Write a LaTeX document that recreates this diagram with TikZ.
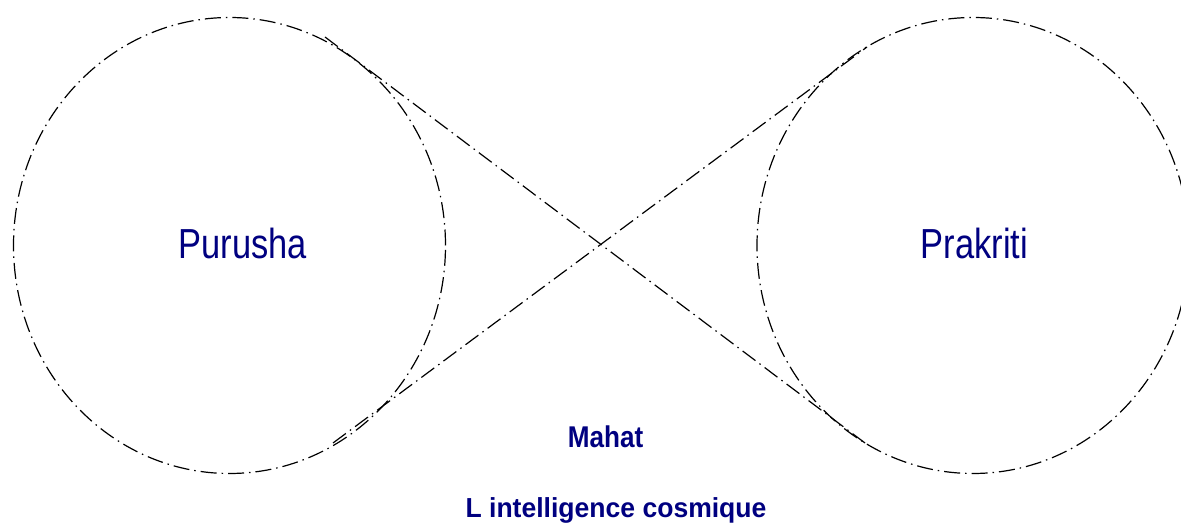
\documentclass[tikz,border=0pt]{standalone}
\usepackage{fontspec}
\setmainfont{Liberation Sans}
\usetikzlibrary{shapes.geometric}
\definecolor{txtnavy}{RGB}{0,0,128}
\begin{document}
\begin{tikzpicture}[x=1pt,y=1pt,
  dd/.style={draw=black,line width=1.2pt,dash pattern=on 16pt off 5pt on 1.5pt off 5pt},
  lbl/.style={text=txtnavy,inner sep=0pt,anchor=base}]
\useasboundingbox (0,0) rectangle (1181,527);
\node[dd,ellipse,minimum width=432pt,minimum height=456pt,inner sep=0pt] (purushaC) at (229.5,281.5) {};
\node[dd,ellipse,minimum width=432pt,minimum height=456pt,inner sep=0pt] (prakritiC) at (973,281.5) {};
\coordinate (a1) at (325,490);
\coordinate (a2) at (865,84);
\coordinate (b1) at (333,84);
\coordinate (b2) at (867,480);
\draw[dd] (a1) -- (a2);
\draw[dd] (b1) -- (b2);
\node[lbl,font=\fontsize{42}{48}\selectfont] (purusha) at (243,268.5) {\scalebox{0.82}[1]{Purusha}};
\node[lbl,font=\fontsize{42}{48}\selectfont] (prakriti) at (974.5,268.5) {\scalebox{0.82}[1]{Prakriti}};
\node[lbl,font=\fontsize{30}{36}\selectfont\bfseries] (mahat) at (605.5,79.5) {\scalebox{0.87}[1]{Mahat}};
\node[lbl,font=\fontsize{27.5}{33}\selectfont\bfseries] (intel) at (616,9.3) {\scalebox{0.965}[1]{L intelligence cosmique}};
\end{tikzpicture}
\end{document}
